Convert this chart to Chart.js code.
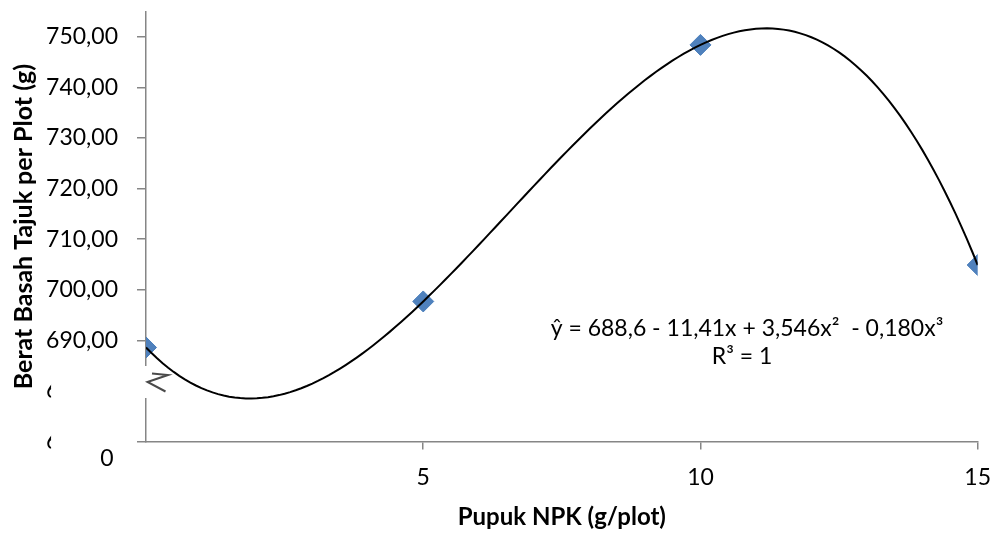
<!DOCTYPE html>
<html><head><meta charset="utf-8">
<script src="https://cdn.jsdelivr.net/npm/chart.js@4/dist/chart.umd.min.js"></script>
<style>html,body{margin:0;padding:0;background:#fff}#wrap{width:995px;height:533px}</style>
</head><body><div id="wrap"><canvas id="c" width="995" height="533"></canvas></div>
<script>
// ---- data ----
const xValues = [0, 5, 10, 15];
const yValues = [688.6, 697.7, 748.4, 704.9];
const xTicks = [0, 5, 10, 15];
const yTicks = [670, 680, 690, 700, 710, 720, 730, 740, 750];
const xAxisTitle = 'Pupuk NPK (g/plot)';
const yAxisTitle = 'Berat Basah Tajuk per Plot (g)';
const equationText = 'ŷ = 688,6 - 11,41x + 3,546x²  - 0,180x³';
const r2Text = 'R³ = 1';
const originLabel = '0';

// cubic (order-3 polynomial) trendline through the data, like the spreadsheet trendline
function polyTrend(xs, ys, x) {
  let s = 0;
  for (let i = 0; i < xs.length; i++) {
    let t = ys[i];
    for (let j = 0; j < xs.length; j++) if (j !== i) t *= (x - xs[j]) / (xs[i] - xs[j]);
    s += t;
  }
  return s;
}
const trendPoints = [];
for (let k = 0; k <= 150; k++) { const x = k / 10; trendPoints.push({x: x, y: polyTrend(xValues, yValues, x)}); }

const FONT = 'Lato';
const AXIS = '#868686';
const TICK_FONT = 23;

const overlay = {
  id: 'overlay',
  beforeDatasetsDraw(chart) {
    const ctx = chart.ctx;
    const ys = chart.scales.y;
    ctx.save();
    // hide most of the two lowest value labels (axis break)
    ctx.font = TICK_FONT + 'px ' + FONT;
    const w = ctx.measureText('680,00').width;
    const labelRight = ys.right - 9 - 19;
    ctx.fillStyle = '#fff';
    ctx.fillRect(labelRight - w + 5, ys.getPixelForValue(682.5), w, ys.getPixelForValue(667.2) - ys.getPixelForValue(682.5));
    // break box on the value axis
    const bx = chart.chartArea.left;
    ctx.fillRect(bx - 9, 366, 35, 32);
    // break glyph
    ctx.strokeStyle = '#4a4a4a';
    ctx.lineWidth = 2;
    ctx.lineJoin = 'miter';
    ctx.beginPath();
    ctx.moveTo(bx + 6, 373.5);
    ctx.lineTo(bx + 22, 375);
    ctx.lineTo(bx + 1.5, 382);
    ctx.lineTo(bx + 19.5, 391.5);
    ctx.stroke();
    ctx.restore();
  },
  afterDraw(chart) {
    const ctx = chart.ctx;
    ctx.save();
    ctx.fillStyle = '#000';
    ctx.textAlign = 'center';
    ctx.textBaseline = 'middle';
    ctx.font = TICK_FONT + 'px ' + FONT;
    ctx.fillText(originLabel, 107, 459);
    ctx.font = '23px ' + FONT;
    ctx.fillText(equationText, 747, 329);
    ctx.fillText(r2Text, 742, 357);
    ctx.restore();
  }
};

new Chart(document.getElementById('c'), {
  type: 'scatter',
  data: {
    datasets: [
      {label: 'Trend', data: trendPoints, showLine: true, borderColor: '#000', borderWidth: 2,
       pointRadius: 0, pointHoverRadius: 0, fill: false, tension: 0, order: 0},
      {label: 'Data', data: xValues.map((x, i) => ({x: x, y: yValues[i]})), pointStyle: 'rectRot',
       pointRadius: 10.5, pointHoverRadius: 10.5, backgroundColor: '#4F81BD', borderColor: '#4A7EBB', borderWidth: 1, order: 1}
    ]
  },
  options: {
    responsive: false, animation: false, devicePixelRatio: 1,
    layout: {padding: {left: 0, right: 17.3, top: 6.7, bottom: 0}},
    plugins: {legend: {display: false}, tooltip: {enabled: false}},
    scales: {
      x: {
        type: 'linear', min: 0, max: 15,
        afterBuildTicks: s => { s.ticks = xTicks.map(v => ({value: v})); },
        ticks: {font: {family: FONT, size: TICK_FONT}, color: '#000', padding: 14, maxRotation: 0, autoSkip: false,
                callback: v => (v === 0 ? '' : String(v))},
        grid: {drawOnChartArea: false, drawTicks: true, tickLength: 8, lineWidth: 1.5,
               color: c => (c.tick && c.tick.value === 0) ? 'rgba(0,0,0,0)' : AXIS},
        border: {color: AXIS, width: 1.5},
        title: {display: true, text: xAxisTitle, color: '#000', font: {family: FONT, size: 24, weight: 'bold'}, padding: {top: 0, bottom: 1}},
        afterFit: s => { s.height = 91.4; s.paddingLeft = 0; s.paddingRight = 0; }
      },
      y: {
        type: 'linear', min: 670, max: 755,
        afterBuildTicks: s => { s.ticks = yTicks.map(v => ({value: v})); },
        ticks: {font: {family: FONT, size: TICK_FONT}, color: '#000', padding: 19,
                callback: v => v.toFixed(2).replace('.', ',')},
        grid: {drawOnChartArea: false, drawTicks: true, tickLength: 9, lineWidth: 1.5, color: AXIS},
        border: {color: AXIS, width: 1.5},
        title: {display: true, text: yAxisTitle, color: '#000', font: {family: FONT, size: 25, weight: 'bold'}, padding: {top: 9, bottom: 0}},
        afterFit: s => { s.width = 146; s.paddingTop = 0; s.paddingBottom = 0; }
      }
    }
  },
  plugins: [overlay]
});
</script>
</body></html>
